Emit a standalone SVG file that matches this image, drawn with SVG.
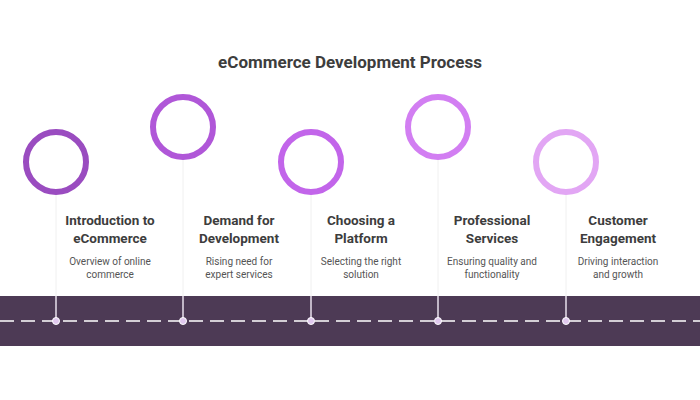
<svg xmlns="http://www.w3.org/2000/svg" width="700" height="400" viewBox="0 0 700 400">
<style>
.t{font-family:Roboto,"Liberation Sans",sans-serif;font-weight:bold;font-size:13.5px;fill:#3d3d3d;text-anchor:middle}
.d{font-family:Roboto,"Liberation Sans",sans-serif;font-size:10px;fill:#555;text-anchor:middle}
.c{fill:none;stroke-width:6}
.v{stroke:#f0f0f0;stroke-width:1}
.vb{stroke:#e8e0ec;stroke-width:1.5}
.dot{fill:#e0c8ee;stroke:#fff;stroke-width:1}
</style>
<rect width="700" height="400" fill="#fff"/>
<text x="350" y="68" font-family="Roboto,'Liberation Sans',sans-serif" font-weight="bold" font-size="17" fill="#3d3d3d" text-anchor="middle">eCommerce Development Process</text>
<rect x="0" y="296" width="700" height="50" fill="#4d3a55"/>
<g id="connectors">
<line x1="0" y1="321" x2="700" y2="321" stroke="#fff" stroke-width="1.5" stroke-dasharray="14,7"/>
<line class="v" x1="56" y1="195" x2="56" y2="296"/><line class="vb" x1="56" y1="296" x2="56" y2="321"/>
<line class="v" x1="183" y1="160" x2="183" y2="296"/><line class="vb" x1="183" y1="296" x2="183" y2="321"/>
<line class="v" x1="311" y1="195" x2="311" y2="296"/><line class="vb" x1="311" y1="296" x2="311" y2="321"/>
<line class="v" x1="438" y1="160" x2="438" y2="296"/><line class="vb" x1="438" y1="296" x2="438" y2="321"/>
<line class="v" x1="566" y1="195" x2="566" y2="296"/><line class="vb" x1="566" y1="296" x2="566" y2="321"/>
</g>
<g id="n1"><circle class="c" cx="56" cy="162" r="30" stroke="#9a4cc0"/><circle class="dot" cx="56" cy="321" r="3.5"/>
<text class="t" x="110" y="225">Introduction to</text><text class="t" x="110" y="243">eCommerce</text>
<text class="d" x="110" y="265">Overview of online</text><text class="d" x="110" y="278">commerce</text></g>
<g id="n2"><circle class="c" cx="183" cy="127" r="30" stroke="#b057d8"/><circle class="dot" cx="183" cy="321" r="3.5"/>
<text class="t" x="239" y="225">Demand for</text><text class="t" x="239" y="243">Development</text>
<text class="d" x="239" y="265">Rising need for</text><text class="d" x="239" y="278">expert services</text></g>
<g id="n3"><circle class="c" cx="311" cy="162" r="30" stroke="#c265ea"/><circle class="dot" cx="311" cy="321" r="3.5"/>
<text class="t" x="361" y="225">Choosing a</text><text class="t" x="361" y="243">Platform</text>
<text class="d" x="361" y="265">Selecting the right</text><text class="d" x="361" y="278">solution</text></g>
<g id="n4"><circle class="c" cx="438" cy="127" r="30" stroke="#d27ef2"/><circle class="dot" cx="438" cy="321" r="3.5"/>
<text class="t" x="492" y="225">Professional</text><text class="t" x="492" y="243">Services</text>
<text class="d" x="492" y="265">Ensuring quality and</text><text class="d" x="492" y="278">functionality</text></g>
<g id="n5"><circle class="c" cx="566" cy="162" r="30" stroke="#e2a6f4"/><circle class="dot" cx="566" cy="321" r="3.5"/>
<text class="t" x="618" y="225">Customer</text><text class="t" x="618" y="243">Engagement</text>
<text class="d" x="618" y="265">Driving interaction</text><text class="d" x="618" y="278">and growth</text></g>
</svg>
